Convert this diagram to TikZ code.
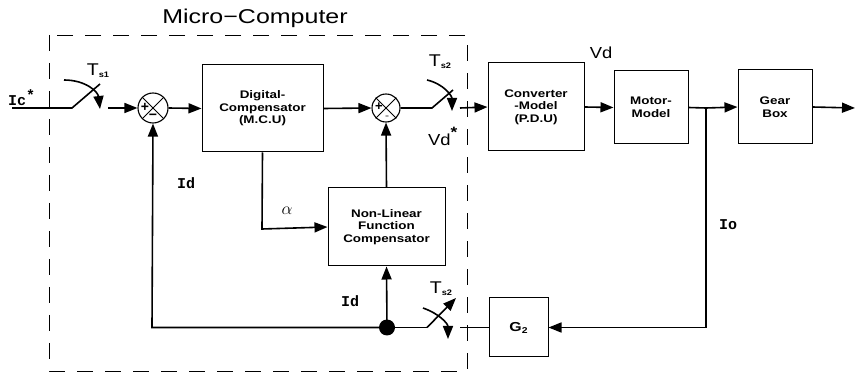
\documentclass[tikz,border=0pt]{standalone}
\usepackage{fontspec}
\setmainfont{Liberation Sans}
\newfontfamily\boxf[FakeStretch=1.22]{Liberation Sans}
\newfontfamily\labf[FakeStretch=1.15]{Liberation Sans}
\newfontfamily\titf[FakeStretch=1.25]{Liberation Sans}
\newfontfamily\monof{Liberation Mono}
\usetikzlibrary{arrows.meta}
\newcommand{\Tsub}[1]{{\labf\fontsize{17}{17}\selectfont T\raisebox{-2pt}{\fontsize{8}{8}\selectfont\bfseries #1}}}
\newcommand{\Star}{{\bfseries\fontsize{15}{15}\selectfont *}}
\tikzset{
  arr/.style={-{Triangle[length=13pt,width=10pt]}},
  sig/.style={line width=1.6pt},
  blk/.style={draw, line width=1pt, align=center, inner sep=0pt,
    font=\boxf\bfseries\fontsize{11}{12.5}\selectfont},
  sumj/.style={draw, circle, line width=1.1pt, inner sep=0pt},
  lab/.style={inner sep=0pt},
}
\begin{document}
\begin{tikzpicture}[x=1pt,y=-1pt]
\useasboundingbox (0,0) rectangle (855,374);
% dashed micro-computer frame
\draw[dash pattern=on 16pt off 12pt, line width=0.8pt] (49,35) rectangle (467,371);
\node[lab, font=\titf\fontsize{20}{20}\selectfont] (title) at (255,18) {Micro−Computer};

% blocks
\node[blk, minimum width=121pt, minimum height=87pt] (dig) at (262.5,108.5) {Digital-\\Compensator\\(M.C.U)};
\node[blk, minimum width=96pt, minimum height=88pt] (conv) at (536,107) {Converter\\-Model\\(P.D.U)};
\node[blk, minimum width=74pt, minimum height=73pt] (motor) at (651,107.5) {Motor-\\Model};
\node[blk, minimum width=74pt, minimum height=74pt] (gear) at (775,107) {Gear\\Box};
\node[blk, minimum width=117pt, minimum height=78pt] (nl) at (386.5,227) {Non-Linear\\Function\\Compensator};
\node[blk, minimum width=59pt, minimum height=59pt, font=\boxf\bfseries\fontsize{13}{13}\selectfont] (g2) at (518.5,327.5) {G\raisebox{-2pt}{\fontsize{8.5}{8.5}\selectfont 2}};

% summing junctions
\node[sumj, minimum size=30pt] (s1) at (153,108) {};
\draw[line width=0.9pt] (s1.north west) -- (s1.south east) (s1.north east) -- (s1.south west);
\node[lab, font=\bfseries\fontsize{14}{14}\selectfont] (s1p) at (145,107) {+};
\node[lab, font=\bfseries\fontsize{14}{14}\selectfont] (s1m) at (153,117) {−};
\node[sumj, minimum size=28pt] (s2) at (386,108) {};
\draw[line width=0.9pt] (s2.north west) -- (s2.south east) (s2.north east) -- (s2.south west);
\node[lab, font=\bfseries\fontsize{13}{13}\selectfont] (s2p) at (379,107) {+};
\node[lab, font=\bfseries\fontsize{6}{6}\selectfont] (s2m) at (387,117) {−};

% coordinates
\coordinate (in) at (12,108);
\coordinate (sw1a) at (72,108);
\coordinate (sw1b) at (100,84);
\coordinate (sw1c) at (108,108);
\coordinate (sw2a) at (432,108);
\coordinate (sw2b) at (453,90);
\coordinate (sw2c) at (460,108);
\coordinate (br) at (706,108);
\coordinate (out) at (855,108);
\coordinate (dot) at (387,327.5);
\coordinate (sw3a) at (427,327.5);
\coordinate (sw3b) at (456,298);
\coordinate (g2l) at (460,327.5);
\coordinate (fbl) at (152,327.5);
\coordinate (alc) at (262,229);

% input switch Ts1
\draw[sig] (in) -- (sw1a) -- (sw1b);
\draw[sig, arr] (64,80) .. controls (86,80) and (98,92) .. (100,109);
\draw[sig, arr] (sw1c) -- (s1.west);
\draw[sig, arr] (s1.east) -- (dig.west);
\draw[sig, arr] (dig.east) -- (s2.west);

% output switch Ts2
\draw[sig] (s2.east) -- (sw2a) -- (sw2b);
\draw[sig, arr] (427,80) .. controls (444,84) and (452,96) .. (452,111);
\draw[sig, arr] (sw2c) -- (conv.west);
\draw[sig, arr] (conv.east) -- (motor.west);
\draw[sig] (motor.east) -- (br);
\draw[sig, arr] (br) -- (gear.west);
\draw[sig, arr] (gear.east) -- (out);

% feedback Io
\draw[sig, arr] (br) |- (g2.east);
\draw[sig] (g2.west) -- (g2l);

% feedback switch Ts2 (lower)
\draw[sig] (dot) -- (sw3a);
\draw[sig, arr] (sw3a) -- (sw3b);
\draw[sig, arr] (423,308) .. controls (440,314) and (448,324) .. (448,339);
\fill (dot) circle (8pt);
\draw[sig, arr] (dot) -- (nl.south);
\draw[sig, arr] (dot) -- (fbl) -- (s1.south);
\draw[sig, arr] (nl.north) -- (s2.south);
\draw[sig, arr] (dig.south) -- (alc) -- (nl.west);

% labels
\node[lab, anchor=west, font=\monof\bfseries\fontsize{15}{15}\selectfont] (ic) at (8,98) {Ic\raisebox{5pt}{\Star}};
\node[lab] (ts1) at (98,71) {\Tsub{s1}};
\node[lab] (ts2) at (440,62) {\Tsub{s2}};
\node[lab, anchor=west, font=\labf\fontsize{16}{16}\selectfont] (vds) at (428,136) {Vd\raisebox{8pt}{\Star}};
\node[lab, font=\labf\fontsize{16}{16}\selectfont] (vd) at (601,53) {Vd};
\node[lab, font=\monof\bfseries\fontsize{15}{15}\selectfont] (id1) at (186,183) {Id};
\node[lab, font=\fontsize{18}{18}\selectfont] (al) at (287,211) {$\alpha$};
\node[lab, font=\monof\bfseries\fontsize{15}{15}\selectfont] (id2) at (350,301) {Id};
\node[lab, font=\monof\bfseries\fontsize{15}{15}\selectfont] (io) at (728,225) {Io};
\node[lab] (ts3) at (441,289) {\Tsub{s2}};
\end{tikzpicture}
\end{document}
